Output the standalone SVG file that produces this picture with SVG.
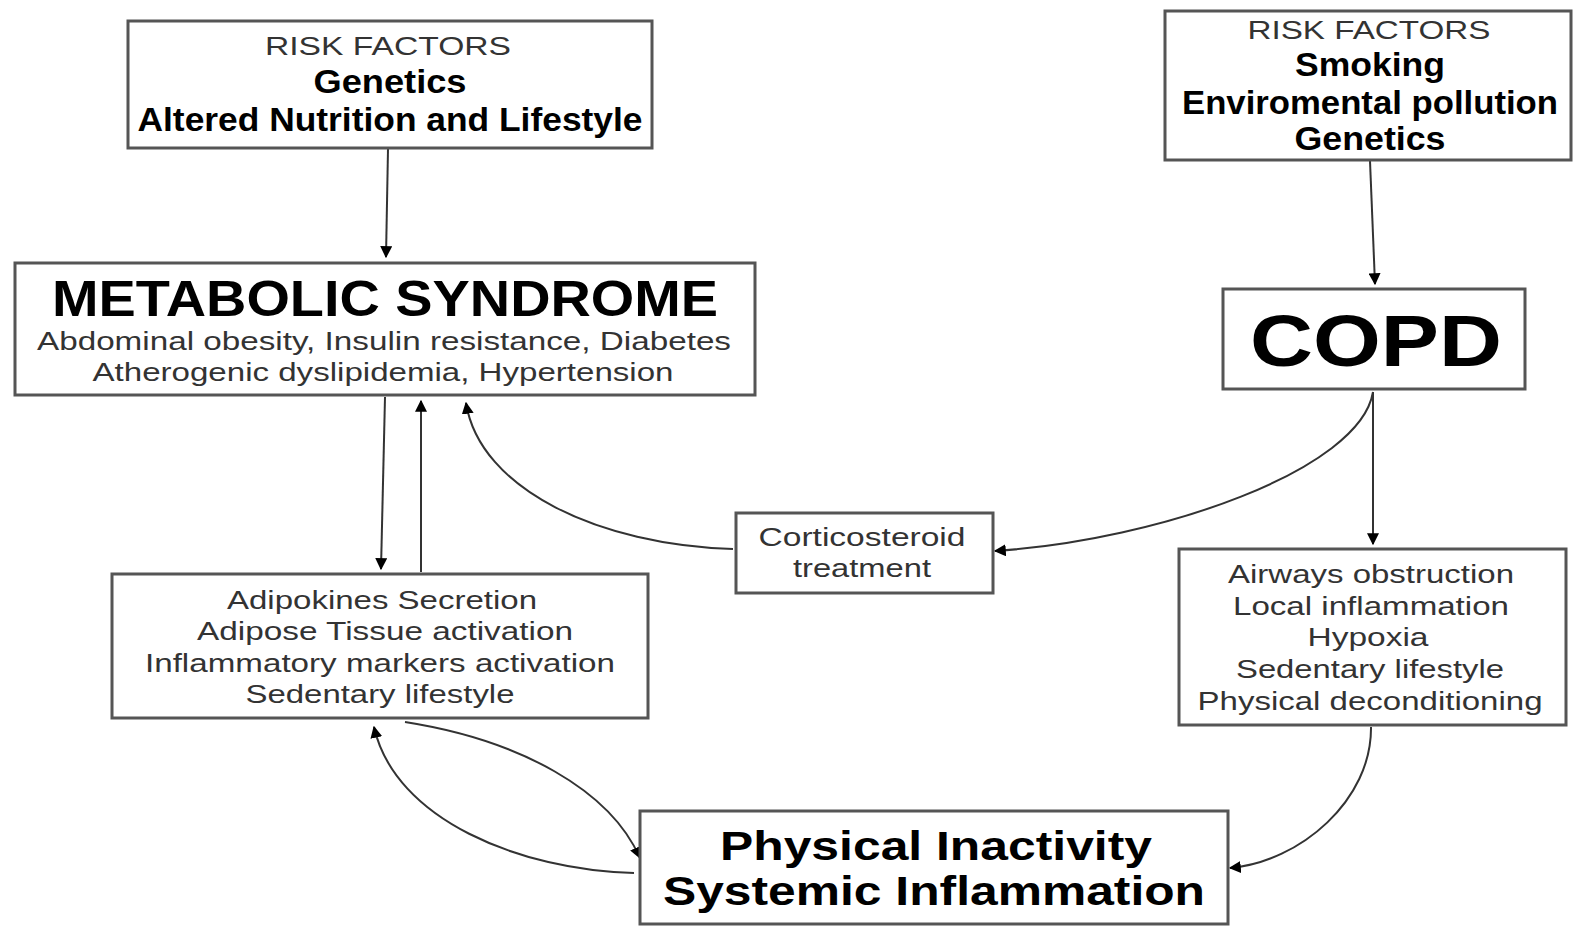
<svg xmlns="http://www.w3.org/2000/svg" width="1574" height="926" viewBox="0 0 1574 926">
<style>
.box{fill:#fff;stroke:#555;stroke-width:3}
.t{font-family:"Liberation Sans",Arial,sans-serif;text-anchor:middle;fill:#333;font-size:25px}
.b{font-family:"Liberation Sans",Arial,sans-serif;text-anchor:middle;fill:#000;font-weight:bold}
.c{fill:none;stroke:#333;stroke-width:2}
</style>
<defs>
<marker id="ah" viewBox="0 0 10 10" refX="9" refY="5" markerWidth="6" markerHeight="6" orient="auto" markerUnits="strokeWidth">
<path d="M0,0 L10,5 L0,10 z" fill="#000"/>
</marker>
</defs>
<rect width="1574" height="926" fill="#fff"/>
<g id="connectors">
<path class="c" d="M388,149 L386,257" marker-end="url(#ah)"/>
<path class="c" d="M1370,161 L1375,284" marker-end="url(#ah)"/>
<path class="c" d="M385,397 L381,569" marker-end="url(#ah)"/>
<path class="c" d="M421,572 L421,401" marker-end="url(#ah)"/>
<path class="c" d="M733,549 C600,545 480,490 466,403" marker-end="url(#ah)"/>
<path class="c" d="M1373,392 C1360,470 1160,540 995,551" marker-end="url(#ah)"/>
<path class="c" d="M1373,392 L1373,544" marker-end="url(#ah)"/>
<path class="c" d="M1371,727 C1372,800 1300,862 1230,868" marker-end="url(#ah)"/>
<path class="c" d="M405,722 C520,740 610,790 640,858" marker-end="url(#ah)"/>
<path class="c" d="M634,873 C520,870 395,820 374,727" marker-end="url(#ah)"/>
</g>
<g id="risk-metabolic">
<rect class="box" x="128" y="21" width="524" height="127"/>
<text class="t" x="388" y="55" font-size="24" textLength="246" lengthAdjust="spacingAndGlyphs" fill="#444">RISK FACTORS</text>
<text class="b" x="390" y="93" font-size="34" textLength="153" lengthAdjust="spacingAndGlyphs">Genetics</text>
<text class="b" x="390" y="131" font-size="34" textLength="505" lengthAdjust="spacingAndGlyphs">Altered Nutrition and Lifestyle</text>
</g>
<g id="risk-copd">
<rect class="box" x="1165" y="11" width="406" height="149"/>
<text class="t" x="1369" y="39" font-size="24" textLength="243" lengthAdjust="spacingAndGlyphs" fill="#444">RISK FACTORS</text>
<text class="b" x="1370" y="76" font-size="34" textLength="150" lengthAdjust="spacingAndGlyphs">Smoking</text>
<text class="b" x="1370" y="114" font-size="34" textLength="376" lengthAdjust="spacingAndGlyphs">Enviromental pollution</text>
<text class="b" x="1370" y="150" font-size="34" textLength="151" lengthAdjust="spacingAndGlyphs">Genetics</text>
</g>
<g id="metabolic-syndrome">
<rect class="box" x="15" y="263" width="740" height="132"/>
<text class="b" x="385" y="316" font-size="50" textLength="666" lengthAdjust="spacingAndGlyphs">METABOLIC SYNDROME</text>
<text class="t" x="384" y="350" textLength="694" lengthAdjust="spacingAndGlyphs">Abdominal obesity, Insulin resistance, Diabetes</text>
<text class="t" x="383" y="381" textLength="581" lengthAdjust="spacingAndGlyphs">Atherogenic dyslipidemia, Hypertension</text>
</g>
<g id="copd">
<rect class="box" x="1223" y="289" width="302" height="100"/>
<text class="b" x="1376" y="366" font-size="72" textLength="252" lengthAdjust="spacingAndGlyphs">COPD</text>
</g>
<g id="corticosteroid">
<rect class="box" x="736" y="513" width="257" height="80"/>
<text class="t" x="862" y="546" font-size="24" textLength="207" lengthAdjust="spacingAndGlyphs">Corticosteroid</text>
<text class="t" x="862" y="577" font-size="24" textLength="138" lengthAdjust="spacingAndGlyphs">treatment</text>
</g>
<g id="adipokines">
<rect class="box" x="112" y="574" width="536" height="144"/>
<text class="t" x="382" y="609" font-size="24" textLength="310" lengthAdjust="spacingAndGlyphs">Adipokines Secretion</text>
<text class="t" x="385" y="640" font-size="24" textLength="376" lengthAdjust="spacingAndGlyphs">Adipose Tissue activation</text>
<text class="t" x="380" y="672" font-size="24" textLength="470" lengthAdjust="spacingAndGlyphs">Inflammatory markers activation</text>
<text class="t" x="380" y="703" font-size="24" textLength="269" lengthAdjust="spacingAndGlyphs">Sedentary lifestyle</text>
</g>
<g id="airways">
<rect class="box" x="1179" y="549" width="387" height="176"/>
<text class="t" x="1371" y="583" font-size="24" textLength="286" lengthAdjust="spacingAndGlyphs">Airways obstruction</text>
<text class="t" x="1371" y="615" font-size="24" textLength="276" lengthAdjust="spacingAndGlyphs">Local inflammation</text>
<text class="t" x="1368" y="646" font-size="24" textLength="121" lengthAdjust="spacingAndGlyphs">Hypoxia</text>
<text class="t" x="1370" y="678" font-size="24" textLength="268" lengthAdjust="spacingAndGlyphs">Sedentary lifestyle</text>
<text class="t" x="1370" y="710" font-size="24" textLength="345" lengthAdjust="spacingAndGlyphs">Physical deconditioning</text>
</g>
<g id="physical-inactivity">
<rect class="box" x="640" y="811" width="588" height="113"/>
<text class="b" x="936" y="860" font-size="40" textLength="432" lengthAdjust="spacingAndGlyphs">Physical Inactivity</text>
<text class="b" x="934" y="905" font-size="40" textLength="542" lengthAdjust="spacingAndGlyphs">Systemic Inflammation</text>
</g>
</svg>
